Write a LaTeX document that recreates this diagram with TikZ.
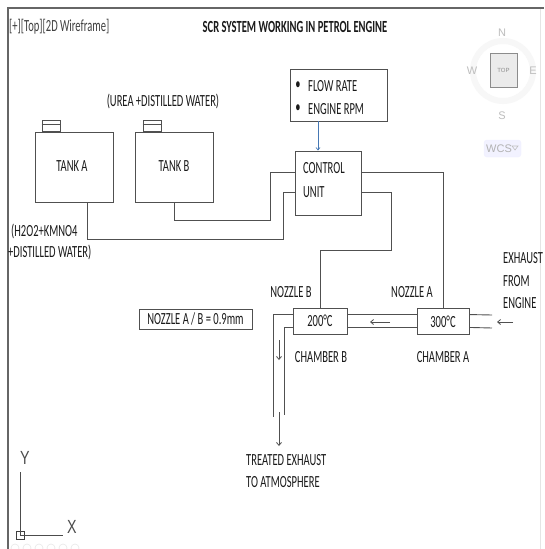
\documentclass[tikz,border=0pt]{standalone}
\usepackage{fontspec}
\setmainfont{Carlito}
\setsansfont{Liberation Sans}
\usepackage{graphicx}
\usetikzlibrary{arrows.meta,calc}
\newcommand\nr[1]{\scalebox{0.62}[1]{#1}}
\definecolor{ln}{HTML}{505050}
\definecolor{tx}{HTML}{1A1A1A}
\definecolor{frm}{HTML}{666666}
\definecolor{vc}{HTML}{BDBDBD}
\begin{document}
\begin{tikzpicture}[x=1pt,y=-1pt,
  pipe/.style={draw=ln, line width=0.9pt},
  box/.style={draw=ln, line width=0.9pt, rectangle, inner sep=0pt},
  lbl/.style={text=tx, inner sep=0pt, font=\fontsize{17}{20}\selectfont},
  arr/.style={draw=ln, line width=0.8pt, -{Straight Barb[length=3pt,width=5pt]}},
  vclbl/.style={text=vc, inner sep=0pt, font=\sffamily\fontsize{11}{12}\selectfont},
]
\useasboundingbox (0,0) rectangle (544,549);
\fill[white] (0,0) rectangle (544,549);

% frame
\draw[frm, line width=1.3pt] (8,549) -- (8,8) -- (544,8);
\draw[black!10, line width=0.8pt] (540,9) -- (540,549);

% header texts
\node[lbl, anchor=west, text=black!75] (hdr) at (9,27) {\nr{[+][Top][2D Wireframe]}};
\node[lbl, font=\fontsize{17}{20}\selectfont\bfseries] (title) at (295,27) {\nr{SCR SYSTEM WORKING IN PETROL ENGINE}};

% view cube
\draw[black!3, line width=6pt] (503,71) circle (30);
\node[draw=black!45, fill=black!8, line width=0.8pt, minimum width=27pt, minimum height=34pt, inner sep=0pt] (top) at (503.5,70) {};
\node[vclbl, font=\sffamily\fontsize{6}{7}\selectfont, text=black!45] at (top) {TOP};
\node[vclbl] (vN) at (502,33) {N};
\node[vclbl] (vW) at (472,71) {W};
\node[vclbl] (vE) at (533,71) {E};
\node[vclbl] (vS) at (502,116) {S};
\node[draw=blue!6, fill=blue!5, rounded corners=3pt, minimum width=37pt, minimum height=17pt, inner sep=0pt] (wcs) at (502.5,148.5) {};
\node[vclbl, text=black!30, anchor=west] (wcst) at (486,148.5) {WCS};
\draw[black!25, line width=0.6pt] (512,146) -- (518,146) -- (515,150) -- cycle;

% tanks
\node[box, minimum width=78pt, minimum height=70pt] (tankA) at (74,167) {};
\node[box, minimum width=78pt, minimum height=70pt] (tankB) at (174,167) {};
\node[box, minimum width=18pt, minimum height=11pt, anchor=south] (capA) at (51,132) {};
\node[box, minimum width=18pt, minimum height=11pt, anchor=south] (capB) at (152,132) {};
\draw[pipe] ([yshift=-4pt]capA.north west) -- ([yshift=-4pt]capA.north east);
\draw[pipe] ([yshift=-4pt]capB.north west) -- ([yshift=-4pt]capB.north east);
\node[lbl] (tA) at (72,166) {\nr{TANK A}};
\node[lbl] (tB) at (174,166) {\nr{TANK B}};
\node[lbl] (urea) at (163,101) {\nr{(UREA +DISTILLED WATER)}};
\node[lbl, anchor=west] (h2o2) at (11,231) {\nr{(H2O2+KMNO4}};
\node[lbl, anchor=west] (dw) at (8,252) {\nr{+DISTILLED WATER)}};

% flow box
\node[box, minimum width=97pt, minimum height=52pt] (flow) at (338.5,95) {};
\node[lbl] (b1) at (298,86) {\nr{•}};
\node[lbl] (b2) at (298,109) {\nr{•}};
\node[lbl, anchor=west] (fr) at (308,86) {\nr{FLOW RATE}};
\node[lbl, anchor=west] (er) at (308,109) {\nr{ENGINE RPM}};

% control unit
\node[box, minimum width=66pt, minimum height=64pt] (cu) at (328,183) {};
\node[lbl, anchor=west] (cu1) at (303,168) {\nr{CONTROL}};
\node[lbl, anchor=west] (cu2) at (303,192) {\nr{UNIT}};
\draw[draw={rgb,255:red,70;green,120;blue,180}, line width=0.7pt, -{Straight Barb[length=2.5pt,width=4pt]}] ([xshift=-20.5pt]flow.south) -- ([xshift=-10pt]cu.north);

% chambers
\node[box, minimum width=54pt, minimum height=26pt] (chB) at (320,321) {};
\node[box, minimum width=52pt, minimum height=26pt] (chA) at (443,321) {};
\node[lbl] (t200) at (320,321) {\nr{200°C}};
\node[lbl] (t300) at (443,322) {\nr{300°C}};

% note box
\node[box, minimum width=113pt, minimum height=20pt] (note) at (195.5,319) {};
\node[lbl] (notet) at (note) {\nr{NOZZLE A / B = 0.9mm}};

% pipes from tanks to control unit
\draw[pipe] (tankB.south) |- (270,220) |- ([yshift=-22pt]cu.north west);
\draw[pipe] ([xshift=13pt]tankA.south) |- (283,239) |- ([yshift=-42pt]cu.north west);
% control unit to nozzles
\draw[pipe] ([yshift=-22pt]cu.north east) -| (chA.north);
\draw[pipe] ([yshift=-42pt]cu.north east) -| (391,250) -| (chB.north);

% exhaust pipes
\draw[pipe] ([yshift=-7pt]chB.north east) -- ([yshift=-7pt]chA.north west);
\draw[pipe] ([yshift=7pt]chB.south east) -- ([yshift=7pt]chA.south west);
\coordinate (inT) at (492,315);
\coordinate (inB) at (492,328);
\draw[pipe] ([yshift=-7pt]chA.north east) -- (inT);
\draw[pipe] ([yshift=7pt]chA.south east) -- (inB);
\coordinate (outT) at (273,417);
\coordinate (outB) at (284,415);
\draw[pipe] ([yshift=-7pt]chB.north west) -| (outT);
\draw[pipe] ([yshift=7pt]chB.south west) -| (outB);

% flow arrows
\coordinate (a1s) at (390,322); \coordinate (a1e) at (370,322);
\coordinate (a2s) at (513,322); \coordinate (a2e) at (497,322);
\coordinate (a3s) at (279,340); \coordinate (a3e) at (279,360);
\coordinate (a4s) at (279,412); \coordinate (a4e) at (279,446);
\draw[arr] (a1s) -- (a1e);
\draw[arr] (a2s) -- (a2e);
\draw[arr] (a3s) -- (a3e);
\draw[arr] (a4s) -- (a4e);

% labels
\node[lbl] (nB) at (291,292) {\nr{NOZZLE B}};
\node[lbl] (nA) at (412,292) {\nr{NOZZLE A}};
\node[lbl] (cB) at (321,357) {\nr{CHAMBER B}};
\node[lbl] (cA) at (443,357) {\nr{CHAMBER A}};
\node[lbl, anchor=west] (ex1) at (503,258) {\nr{EXHAUST}};
\node[lbl, anchor=west] (ex2) at (503,281) {\nr{FROM}};
\node[lbl, anchor=west] (ex3) at (503,303) {\nr{ENGINE}};
\node[lbl, anchor=west] (tr1) at (246,460) {\nr{TREATED EXHAUST}};
\node[lbl, anchor=west] (tr2) at (246,482) {\nr{TO ATMOSPHERE}};

% UCS icon
\node[draw=black!75, line width=0.8pt, minimum size=8pt, inner sep=0pt] (ucs) at (20,535) {};
\draw[black!70, line width=0.8pt] (ucs.center) -- (20,472);
\draw[black!70, line width=0.8pt] (ucs.center) -- (63,535);
\node[text=black!70, inner sep=0pt, font=\sffamily\fontsize{19}{20}\selectfont] (uy) at (25,458) {\scalebox{0.75}[1]{Y}};
\node[text=black!70, inner sep=0pt, font=\sffamily\fontsize{19}{20}\selectfont] (ux) at (72,527) {\scalebox{0.75}[1]{X}};

% navigation bar (faint)
\foreach \cx in {15,27,39,51,63,75} \draw[black!9, line width=0.6pt] (\cx,548) circle (4);
\end{tikzpicture}
\end{document}
